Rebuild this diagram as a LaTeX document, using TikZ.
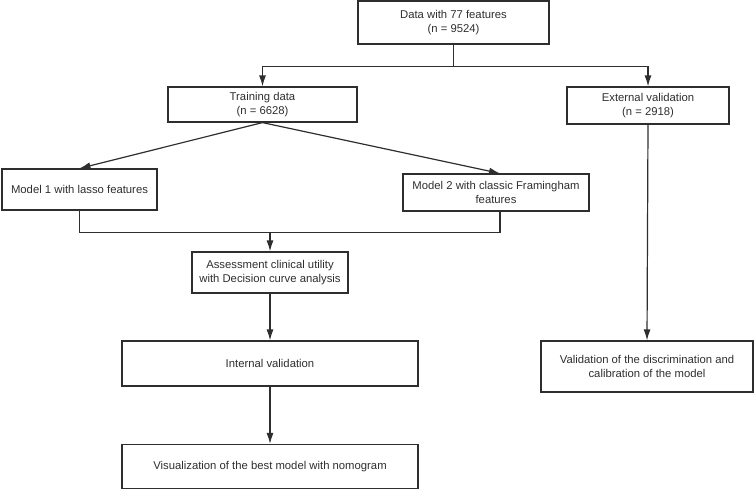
\documentclass[tikz,border=0pt]{standalone}
\usepackage{fontspec}
\setmainfont{Liberation Sans}
\usetikzlibrary{calc,arrows.meta}
\definecolor{ink}{HTML}{2E2E2E}
\tikzset{box/.style={draw=ink, text=ink, line width=1.2pt, align=center, inner sep=2pt, font=\fontsize{11.3}{14}\selectfont}}
\begin{document}
\begin{tikzpicture}[>={Latex[length=11pt,width=7pt]}, x=1pt, y=-1pt, line width=1.2pt, draw=ink]
\useasboundingbox (0,0) rectangle (754,490);

\node[box, minimum width=191, minimum height=43] (data) at (453.5,22.5) {Data with 77 features\\(n = 9524)};
\node[box, minimum width=189, minimum height=35] (train) at (262.5,104.5) {Training data\\(n = 6628)};
\node[box, minimum width=162, minimum height=37] (ext) at (648,105.5) {External validation\\(n = 2918)};
\node[box, minimum width=155, minimum height=41] (mone) at (79.5,189.5) {Model 1 with lasso features};
\node[box, minimum width=186, minimum height=37] (mtwo) at (496,192.5) {Model 2 with classic Framingham\\features};
\node[box, minimum width=156, minimum height=41] (assess) at (270,272.5) {Assessment clinical utility\\with Decision curve analysis};
\node[box, minimum width=296, minimum height=45] (intern) at (270,363.5) {Internal validation};
\node[box, minimum width=296, minimum height=44] (visual) at (270,466.5) {Visualization of the best model with nomogram};
\node[box, minimum width=212, minimum height=51] (valid) at (647,366.5) {Validation of the discrimination and\\calibration of the model};

% split of the data
\coordinate (split) at ($(data.south)+(0,22)$);
\draw [->] (data.south) -- (split) -| (train.north);
\draw [->] (split) -| (ext.north);

\coordinate (mtwoin) at ($(mtwo.north)+(4,0)$);
\coordinate (mtwoout) at ($(mtwo.south)+(4,0)$);
\draw [->] (train.south) -- (mone.north);
\draw [->] (train.south) -- (mtwoin);

% both models go to the assessment
\coordinate (merge) at ($(mone.south)+(0,22)$);
\draw (mone.south) -- (merge) -| (mtwoout);
\draw [->] (assess.north |- merge) -- (assess.north);

\draw [->] (assess.south) -- (intern.north);
\draw [->] (intern.south) -- (visual.north);
\draw [->] (ext.south) -- (valid.north);
\end{tikzpicture}
\end{document}
